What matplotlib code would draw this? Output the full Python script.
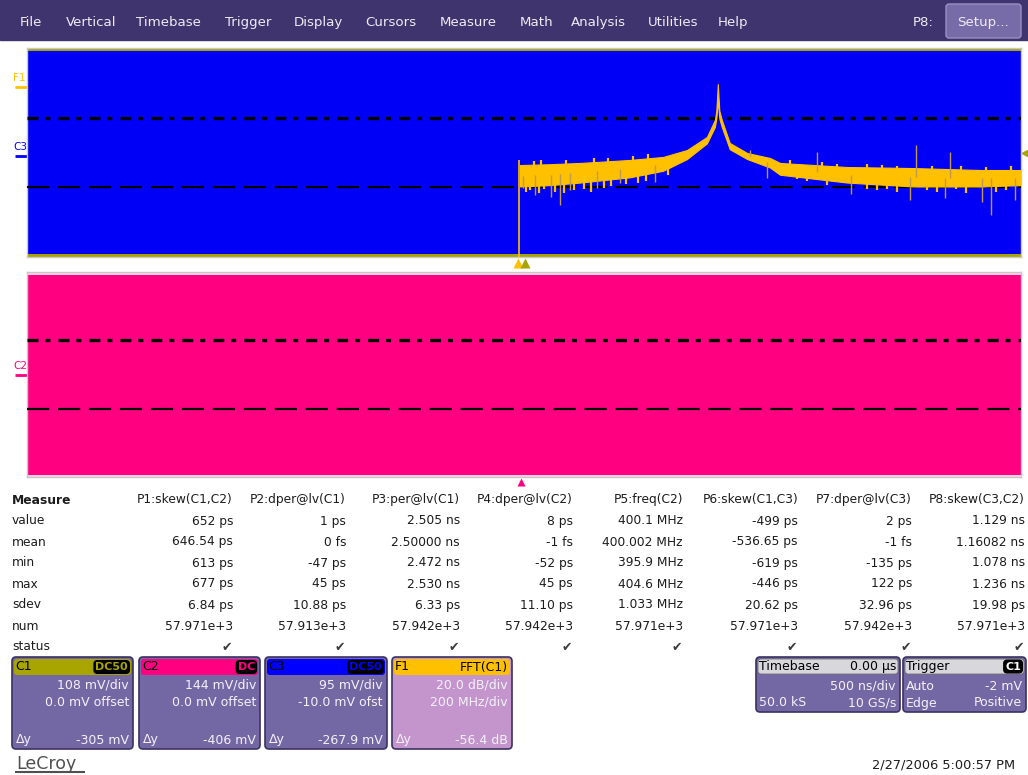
import matplotlib
matplotlib.use("Agg")
import numpy as np
import matplotlib.pyplot as plt
from matplotlib.patches import Rectangle, FancyBboxPatch

plt.rcParams['font.family'] = ['DejaVu Sans']
plt.rcParams['lines.scale_dashes'] = False

W, H = 1028, 775

# --- F1 = FFT(C1): band of the spectrum trace (MHz, dB) ---
fft_freq  = [2, 60, 123, 223, 290, 338, 378, 394, 397, 400, 403, 408, 424, 459, 505, 525, 660, 793, 928, 1008]
fft_upper = [-69.6, -69.0, -68.0, -65.7, -63.4, -58.1, -48.1, -35.1, -28.0, -7.6, -28.0, -35.1, -52.7, -60.4,
             -64.2, -68.0, -71.1, -71.9, -73.4, -73.4]
fft_lower = [-86.0, -85.0, -83.0, -79.0, -74.0, -65.0, -53.0, -40.5, -34.0, -20.0, -34.0, -40.5, -57.5, -65.0,
             -71.5, -77.0, -83.0, -86.0, -86.0, -85.0]
dc_bin_db = -65.7
# noise excursions inside the trace band
band_dn_freq = [14, 22, 40, 50, 72, 90, 110, 130, 145, 170, 185, 215, 240, 255, 300,
                560, 580, 620, 700, 720, 740, 760, 820, 840, 880, 900, 960, 980]
band_dn_db   = [-90, -89, -91, -88, -90, -91, -89, -88, -90, -87, -86, -84, -83, -82, -77,
                -80, -82, -85, -88, -89, -88, -90, -89, -90, -88, -91, -90, -89]
band_up_freq = [30, 45, 95, 150, 180, 230, 260, 545, 610, 640, 700, 730, 760, 830, 890, 940, 990]
band_up_db   = [-66.5, -66.0, -65.5, -64.5, -64.0, -62.5, -61.0, -66.0, -67.5, -68.5, -69.0, -69.5,
                -70.0, -70.0, -70.5, -71.0, -70.5]
# isolated spurs reaching beyond the band
spur_dn_freq = [8, 32, 64, 82, 103, 157, 203, 274, 499, 668, 787, 857, 932, 950, 998]
spur_dn_db   = [-87.2, -92.5, -94.1, -100.2, -88.7, -87.2, -83.4, -82.6, -79.5, -91.8, -96.4, -94.8, -97.9, -107.9, -96.4]
spur_up_freq = [465, 600, 799, 867]
spur_up_db   = [-58.1, -59.6, -54.3, -59.6]

# --- menu ---
menu_items = ['File', 'Vertical', 'Timebase', 'Trigger', 'Display', 'Cursors', 'Measure',
              'Math', 'Analysis', 'Utilities', 'Help']
menu_x = [20, 66, 136, 225, 294, 365, 440, 520, 571, 648, 718]

# --- measurement table ---
m_params = ['P1:skew(C1,C2)', 'P2:dper@lv(C1)', 'P3:per@lv(C1)', 'P4:dper@lv(C2)',
            'P5:freq(C2)', 'P6:skew(C1,C3)', 'P7:dper@lv(C3)', 'P8:skew(C3,C2)']
m_value = ['652 ps', '1 ps', '2.505 ns', '8 ps', '400.1 MHz', '-499 ps', '2 ps', '1.129 ns']
m_mean  = ['646.54 ps', '0 fs', '2.50000 ns', '-1 fs', '400.002 MHz', '-536.65 ps', '-1 fs', '1.16082 ns']
m_min   = ['613 ps', '-47 ps', '2.472 ns', '-52 ps', '395.9 MHz', '-619 ps', '-135 ps', '1.078 ns']
m_max   = ['677 ps', '45 ps', '2.530 ns', '45 ps', '404.6 MHz', '-446 ps', '122 ps', '1.236 ns']
m_sdev  = ['6.84 ps', '10.88 ps', '6.33 ps', '11.10 ps', '1.033 MHz', '20.62 ps', '32.96 ps', '19.98 ps']
m_num   = ['57.971e+3', '57.913e+3', '57.942e+3', '57.942e+3', '57.971e+3', '57.971e+3', '57.942e+3', '57.971e+3']

# --- channel descriptor boxes ---
ch_names  = ['C1', 'C2', 'C3', 'F1']
ch_badge  = ['DC50', 'DC', 'DC50', 'FFT(C1)']
ch_scale  = ['108 mV/div', '144 mV/div', '95 mV/div', '20.0 dB/div']
ch_offset = ['0.0 mV offset', '0.0 mV offset', '-10.0 mV ofst', '200 MHz/div']
ch_dy     = ['-305 mV', '-406 mV', '-267.9 mV', '-56.4 dB']
ch_colors = ['#a8a400', '#ff0080', '#0000ff', '#ffc000']

C1_COL, C2_COL, C3_COL, F1_COL = ch_colors
MENU_BG = '#40346e'
BOX_BG = '#7468a4'
TXT = '#1c1c1c'
SPUR = '#c09a50'


def fig_rect(x0, y0, x1, y1):
    return [x0 / W, 1 - y1 / H, (x1 - x0) / W, (y1 - y0) / H]


fig = plt.figure(figsize=(W / 100, H / 100), dpi=100)
ui = fig.add_axes([0, 0, 1, 1])
ui.set_xlim(0, W)
ui.set_ylim(H, 0)
ui.axis('off')

# menu bar
ui.add_patch(Rectangle((0, 0), W, 40, color=MENU_BG, zorder=1))
for name, x in zip(menu_items, menu_x):
    ui.text(x, 26, name, color='#ececf4', fontsize=9.6, va='baseline', ha='left', zorder=3)
ui.text(913, 26, 'P8:', color='#ececf4', fontsize=9.6, va='baseline', ha='left', zorder=3)
ui.add_patch(FancyBboxPatch((946, 4), 75, 34, boxstyle='round,pad=0,rounding_size=3',
                            fc='#776ca8', ec='#9a90c4', lw=1, zorder=2))
ui.text(983.5, 26, 'Setup...', color='#ececf4', fontsize=9.6, va='baseline', ha='center', zorder=3)


def dash_lines(ax):
    ax.plot([0, 1], [2 / 3, 2 / 3], transform=ax.transAxes, color='black', lw=2.4,
            linestyle=(0, (7.9, 5.0, 3.6, 5.8)), solid_capstyle='butt', zorder=5)
    ax.plot([0, 1], [1 / 3, 1 / 3], transform=ax.transAxes, color='black', lw=1.6,
            linestyle=(0, (16, 6.3)), zorder=5)


# upper grid: C3 fills the screen, F1 spectrum on top
ax1 = fig.add_axes(fig_rect(27, 48, 1021, 257))
ax1.set_facecolor('#0000f6')
ax1.set_xlim(-990, 1010)
ax1.set_ylim(-140, 20)
ax1.set_xticks([])
ax1.set_yticks([])
for s in ax1.spines.values():
    s.set_color('#c8c8c8')
    s.set_linewidth(1)
# C1 noise hugging the grid edges
ax1.add_patch(Rectangle((0, 0), 1, 0.014, transform=ax1.transAxes, color=C1_COL, lw=0, zorder=2))
ax1.add_patch(Rectangle((0, 0.986), 1, 0.014, transform=ax1.transAxes, color=C1_COL, lw=0, zorder=2))
dash_lines(ax1)
ax1.vlines(0, -145, dc_bin_db, color=F1_COL, lw=1.2, zorder=6)
ax1.fill_between(fft_freq, fft_lower, fft_upper, color=F1_COL, lw=0.8, zorder=6)
band_mid = lambda f: np.interp(f, fft_freq, (np.array(fft_upper) + np.array(fft_lower)) / 2)
ax1.vlines(band_dn_freq, band_mid(band_dn_freq), band_dn_db, color=F1_COL, lw=1.6, zorder=6)
ax1.vlines(band_up_freq, band_mid(band_up_freq), band_up_db, color=F1_COL, lw=1.6, zorder=6)
ax1.vlines(spur_dn_freq, band_mid(spur_dn_freq), spur_dn_db, color=SPUR, lw=1, zorder=7)
ax1.vlines(spur_up_freq, band_mid(spur_up_freq), spur_up_db, color=SPUR, lw=1, zorder=7)

# lower grid: C2
ax2 = fig.add_axes(fig_rect(27, 272, 1021, 477))
ax2.set_facecolor('#ff0080')
ax2.set_xticks([])
ax2.set_yticks([])
for s in ax2.spines.values():
    s.set_color('#c8c8c8')
    s.set_linewidth(1)
ax2.add_patch(Rectangle((0, 0.985), 1, 0.015, transform=ax2.transAxes, color='#fbd0e6', lw=0, zorder=2))
ax2.add_patch(Rectangle((0, 0), 1, 0.01, transform=ax2.transAxes, color='#fbd0e6', lw=0, zorder=2))
dash_lines(ax2)

# trace labels on the left
for lab, y, col in [('F1', 78, F1_COL), ('C3', 147, C3_COL), ('C2', 366, C2_COL)]:
    ui.text(13, y, lab, color=col, fontsize=7.5, va='center', ha='left')
    ui.plot([15, 27], [y + 9, y + 9], color=col, lw=2, solid_capstyle='butt')

# trigger / position markers
ui.plot([518], [263], marker='^', ms=7, color=F1_COL, mec='none')
ui.plot([525], [263], marker='^', ms=7, color=C1_COL, mec='none')
ui.plot([521], [482], marker='^', ms=6, color=C2_COL, mec='none')
ui.plot([1024], [153], marker='<', ms=6, color=C1_COL, mec='none')

# measurement table
col_right = [233, 346, 460, 573, 683, 798, 912, 1025]
ui.text(12, 500, 'Measure', fontsize=8.8, fontweight='bold', color=TXT, va='center')
for p, x in zip(m_params, col_right):
    ui.text(x, 500, p, fontsize=8.8, color=TXT, va='center', ha='right')
table_rows = [('value', m_value), ('mean', m_mean), ('min', m_min), ('max', m_max),
              ('sdev', m_sdev), ('num', m_num)]
for i, (lab, vals) in enumerate(table_rows):
    y = 521 + 21 * i
    ui.text(12, y, lab, fontsize=8.8, color=TXT, va='center')
    for v, x in zip(vals, col_right):
        ui.text(x, y, v, fontsize=8.8, color=TXT, va='center', ha='right')
ui.text(12, 647, 'status', fontsize=8.8, color=TXT, va='center')
for x in col_right:
    ui.text(x - 1, 647, '\u2714', fontsize=9, color='#3c3c3c', va='center', ha='right')

# channel descriptor boxes
box_x = [(12, 133), (139, 260), (265, 387), (392, 512)]
for i, (x0, x1) in enumerate(box_x):
    body = '#c494cc' if ch_names[i] == 'F1' else BOX_BG
    ui.add_patch(FancyBboxPatch((x0, 657), x1 - x0, 92, boxstyle='round,pad=0,rounding_size=4',
                                fc=body, ec='#3a3264', lw=1.2, zorder=2))
    ui.add_patch(FancyBboxPatch((x0 + 2, 659), x1 - x0 - 4, 16, boxstyle='round,pad=0,rounding_size=3',
                                fc=ch_colors[i], ec='none', zorder=3))
    ui.text(x0 + 3, 667, ch_names[i], fontsize=9, color='black', va='center', ha='left', zorder=4)
    if ch_names[i] == 'F1':
        ui.text(x1 - 4, 667, ch_badge[i], fontsize=9, color='black', va='center', ha='right', zorder=4)
    else:
        t = ui.text(x1 - 5, 667, ch_badge[i], fontsize=8, color=ch_colors[i], va='center', ha='right',
                    zorder=5, fontweight='bold')
        t.set_bbox(dict(boxstyle='round,pad=0.12,rounding_size=0.3', fc='black', ec='black'))
    ui.text(x1 - 4, 685, ch_scale[i], fontsize=9, color='#f2f2fa', va='center', ha='right', zorder=4)
    ui.text(x1 - 4, 702, ch_offset[i], fontsize=9, color='#f2f2fa', va='center', ha='right', zorder=4)
    ui.text(x0 + 4, 740, '\u0394y', fontsize=9, color='#f2f2fa', va='center', ha='left', zorder=4)
    ui.text(x1 - 4, 740, ch_dy[i], fontsize=9, color='#f2f2fa', va='center', ha='right', zorder=4)

# timebase and trigger boxes
info_boxes = [
    (756, 900, 'Timebase', '0.00 \u00b5s', [('', '500 ns/div'), ('50.0 kS', '10 GS/s')]),
    (903, 1026, 'Trigger', 'C1', [('Auto', '-2 mV'), ('Edge', 'Positive')]),
]
for x0, x1, title, right, lines in info_boxes:
    ui.add_patch(FancyBboxPatch((x0, 657), x1 - x0, 55, boxstyle='round,pad=0,rounding_size=4',
                                fc=BOX_BG, ec='#3a3264', lw=1.2, zorder=2))
    ui.add_patch(FancyBboxPatch((x0 + 2, 659), x1 - x0 - 4, 15, boxstyle='round,pad=0,rounding_size=3',
                                fc='#d8d8dc', ec='#707070', lw=0.6, zorder=3))
    ui.text(x0 + 3, 666.5, title, fontsize=9, color='black', va='center', ha='left', zorder=4)
    if title == 'Trigger':
        t = ui.text(x1 - 5, 666.5, right, fontsize=8, color='white', va='center', ha='right',
                    zorder=5, fontweight='bold')
        t.set_bbox(dict(boxstyle='round,pad=0.12,rounding_size=0.3', fc='black', ec='black'))
    else:
        ui.text(x1 - 4, 666.5, right, fontsize=9, color='black', va='center', ha='right', zorder=4)
    for j, (lft, rgt) in enumerate(lines):
        y = 686 + 17 * j
        ui.text(x0 + 3, y, lft, fontsize=9, color='#f2f2fa', va='center', ha='left', zorder=4)
        ui.text(x1 - 4, y, rgt, fontsize=9, color='#f2f2fa', va='center', ha='right', zorder=4)

# footer
ui.text(16, 764, 'LeCroy', fontsize=12.5, color='#505050', va='center', ha='left')
ui.plot([16, 84], [772, 772], color='#505050', lw=1.5)
ui.text(1015, 765, '2/27/2006 5:00:57 PM', fontsize=9.3, color=TXT, va='center', ha='right')

fig.savefig('out.png', dpi=100)
